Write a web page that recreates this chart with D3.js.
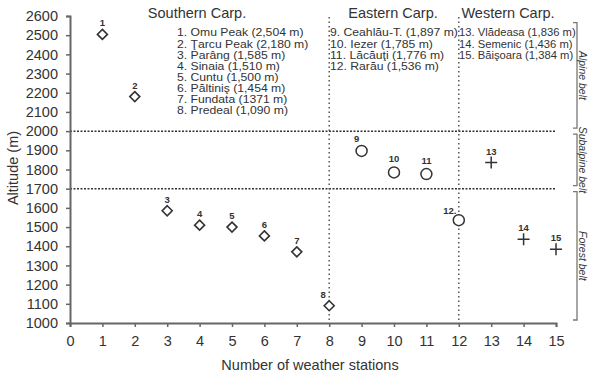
<!DOCTYPE html>
<html>
<head>
<meta charset="utf-8">
<script src="https://cdn.jsdelivr.net/npm/d3@7"></script>
<style>
  body { margin: 0; background: #fff; }
  text { font-family: "Liberation Sans", Arial, sans-serif; fill: #333; }
</style>
</head>
<body>
<div class="chart"></div>
<script>
// station numbers and altitudes (m)
let stations = [1, 2, 3, 4, 5, 6, 7, 8, 9, 10, 11, 12, 13, 14, 15];
let altitudes = [2504, 2180, 1585, 1510, 1500, 1454, 1371, 1090, 1897, 1785, 1776, 1536, 1836, 1436, 1384];
let groups = ["S", "S", "S", "S", "S", "S", "S", "S", "E", "E", "E", "E", "W", "W", "W"];

let xTicks = d3.range(0, 16);
let yTicks = d3.range(1000, 2601, 100);

let southernNames = ["1. Omu Peak (2,504 m)", "2. Ţarcu Peak (2,180 m)", "3. Parâng (1,585 m)", "4. Sinaia (1,510 m)",
  "5. Cuntu (1,500 m)", "6. Păltiniş (1,454 m)", "7. Fundata (1371 m)", "8. Predeal (1,090 m)"];
let easternNames = ["9. Ceahlău-T. (1,897 m)", "10. Iezer (1,785 m)", "11. Lăcăuţi (1,776 m)", "12. Rarău (1,536 m)"];
let westernNames = ["13. Vlădeasa (1,836 m)", "14. Semenic (1,436 m)", "15. Băişoara (1,384 m)"];

let beltLines = [2000, 1700];
let groupBreaks = [8, 12];
let belts = [
  { name: "Alpine belt", from: 2000, to: 2600 },
  { name: "Subalpine belt", from: 1700, to: 2000 },
  { name: "Forest belt", from: 1000, to: 1700 }
];

let width = 589, height = 375;

let xScale = d3.scaleLinear().domain([0, 15]).range([70, 556]);
let yScale = d3.scaleLinear().domain([1000, 2600]).range([323, 16]);

let svg = d3.select(".chart").append("svg").attr("width", width).attr("height", height);

// belt separators
svg.selectAll(".belt-line")
  .data(beltLines)
  .enter()
  .append("line")
  .attr("x1", xScale(0)).attr("x2", xScale(15))
  .attr("y1", (d) => yScale(d)).attr("y2", (d) => yScale(d))
  .attr("stroke", "#333").attr("stroke-width", 1.5).attr("stroke-dasharray", "2,1.5");

// group separators
svg.selectAll(".group-line")
  .data(groupBreaks)
  .enter()
  .append("line")
  .attr("x1", (d) => xScale(d)).attr("x2", (d) => xScale(d))
  .attr("y1", yScale(2595)).attr("y2", yScale(1000))
  .attr("stroke", "#555").attr("stroke-width", 1.5).attr("stroke-dasharray", "1.5,3");

// axes
let xAxis = d3.axisBottom(xScale).tickValues(xTicks).tickSize(4).tickPadding(9);
let yAxis = d3.axisLeft(yScale).tickValues(yTicks).tickFormat(d3.format("d")).tickSize(4).tickPadding(8);

let gx = svg.append("g").attr("transform", "translate(0," + yScale(1000) + ")").call(xAxis);
let gy = svg.append("g").attr("transform", "translate(" + xScale(0) + ",0)").call(yAxis);

[gx, gy].forEach((g) => {
  g.select(".domain").attr("stroke", "#666").attr("stroke-width", 2);
  g.selectAll(".tick line").attr("stroke", "#666").attr("stroke-width", 1.5);
  g.selectAll(".tick text").attr("font-size", 14.5).attr("fill", "#333")
    .attr("font-family", "Liberation Sans, Arial, sans-serif");
});

svg.append("text")
  .attr("x", 310).attr("y", 370)
  .attr("text-anchor", "middle").attr("font-size", 14.5)
  .text("Number of weather stations");

svg.append("text")
  .attr("transform", "translate(18,168) rotate(-90)")
  .attr("text-anchor", "middle").attr("font-size", 14.5)
  .text("Altitude (m)");

// markers
let pts = svg.selectAll(".pt")
  .data(stations)
  .enter()
  .append("g")
  .attr("transform", (d, i) => "translate(" + xScale(d) + "," + yScale(altitudes[i]) + ")");

pts.each(function (d, i) {
  let g = d3.select(this);
  if (groups[i] === "S") {
    g.append("path").attr("d", "M0,-5L5,0L0,5L-5,0Z")
      .attr("fill", "#fff").attr("stroke", "#333").attr("stroke-width", 1.6);
  } else if (groups[i] === "E") {
    g.append("circle").attr("r", 5.5)
      .attr("fill", "#fff").attr("stroke", "#333").attr("stroke-width", 1.5);
  } else {
    g.append("path").attr("d", "M-6,0H6M0,-6V6")
      .attr("stroke", "#333").attr("stroke-width", 1.5);
  }
});

let labelOffset = { 8: [-6, -8], 9: [-5, -9], 12: [-9, -6] };
pts.append("text")
  .attr("x", (d) => (labelOffset[d] ? labelOffset[d][0] : 0))
  .attr("y", (d) => (labelOffset[d] ? labelOffset[d][1] : (d > 8 && d < 12 ? -10 : -8)))
  .attr("text-anchor", "middle").attr("font-size", 9.5).attr("font-weight", "bold").attr("fill", "#444")
  .text((d) => (d === 12 ? "12." : d));

// group titles
let titles = [["Southern Carp.", 197], ["Eastern Carp.", 393], ["Western Carp.", 508]];
svg.selectAll(".title")
  .data(titles)
  .enter()
  .append("text")
  .attr("x", (d) => d[1]).attr("y", 18)
  .attr("text-anchor", "middle").attr("font-size", 14.5)
  .text((d) => d[0]);

// station name lists (slightly stretched so lines stay tight like the original)
function nameList(names, x, sx) {
  svg.append("g")
    .attr("transform", "translate(" + x + ",0) scale(" + sx + ",1)")
    .selectAll("text")
    .data(names)
    .enter()
    .append("text")
    .attr("x", 0).attr("y", (d, i) => 36.5 + i * 11.1)
    .attr("font-size", 10.6)
    .text((d) => d);
}
nameList(southernNames, 177, 1.15);
nameList(easternNames, 330, 1.15);
nameList(westernNames, 459, 1.06);

// belt brackets on the right
let bx = 577;
let bracket = svg.selectAll(".bracket")
  .data(belts)
  .enter()
  .append("g");

bracket.append("path")
  .attr("d", (d, i) => {
    let top = i === 0 ? yScale(2565) : yScale(d.to) + 3;
    let bot = yScale(d.from) - 3;
    return "M" + (bx - 4) + "," + top + "H" + bx + "V" + bot + "H" + (bx - 4);
  })
  .attr("fill", "none").attr("stroke", "#777").attr("stroke-width", 1.3);

bracket.append("text")
  .attr("transform", (d, i) => {
    let top = i === 0 ? yScale(2565) : yScale(d.to) + 3;
    let bot = yScale(d.from) - 3;
    return "translate(" + (bx + 2) + "," + (top + bot) / 2 + ") rotate(90)";
  })
  .attr("text-anchor", "middle").attr("font-size", 10.5).attr("font-style", "italic")
  .text((d) => d.name);
</script>
</body>
</html>
